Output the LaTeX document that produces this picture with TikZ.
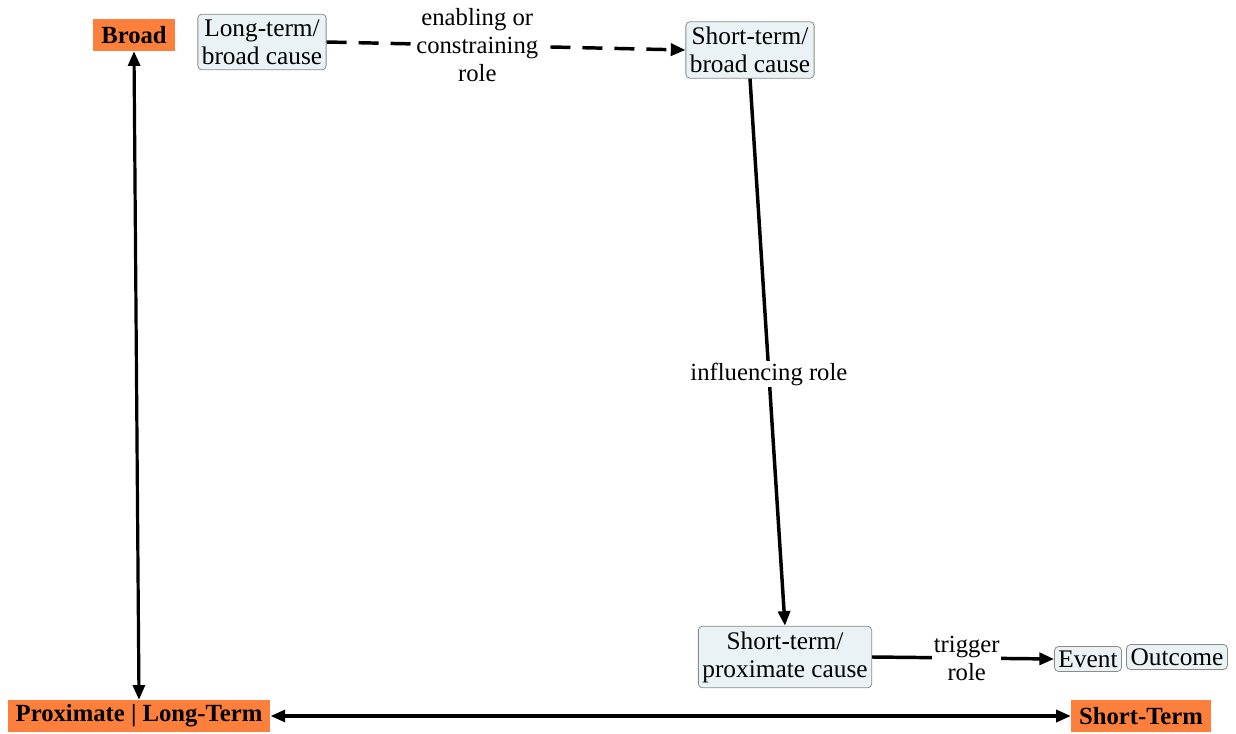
\documentclass[tikz,border=0pt]{standalone}
\usepackage{fontspec}
\setmainfont{LiberationSerif}[Extension=.ttf,UprightFont=*-Regular,BoldFont=*-Bold,ItalicFont=*-Italic,BoldItalicFont=*-BoldItalic]
\usetikzlibrary{arrows.meta}
\definecolor{causefill}{HTML}{EAF2F5}
\definecolor{causeedge}{HTML}{8A8A8A}
\definecolor{axisfill}{HTML}{FD7F3C}
\begin{document}
\begin{tikzpicture}[x=0.75pt,y=-0.75pt,
  cause/.style={draw=causeedge,fill=causefill,rounded corners=3pt,line width=0.6pt,
    align=center,inner xsep=3pt,inner ysep=4pt,font=\fontsize{19}{21}\selectfont},
  axis/.style={fill=axisfill,inner xsep=6pt,inner ysep=0pt,minimum height=24pt,
    font=\fontsize{18.5}{21}\selectfont\bfseries},
  rolelabel/.style={fill=white,align=center,inner sep=1pt,font=\fontsize{18.5}{21}\selectfont},
  link/.style={line width=2.6pt,-{Triangle[length=11pt,width=9pt]}},
  twoway/.style={line width=2.4pt,{Triangle[length=11pt,width=9pt]}-{Triangle[length=11pt,width=9pt]}}]
\useasboundingbox (0,0) rectangle (1236,734);

% axis labels
\node[axis] (broad) at (134,35) {Broad};
\node[axis] (prox) at (139,716) {Proximate | Long-Term};
\node[axis] (short) at (1141,716) {Short-Term};

% causes
\node[cause] (ltb) at (262,42) {Long-term/\\broad cause};
\node[cause] (stb) at (750,50) {Short-term/\\broad cause};
\node[cause] (stp) at (785,657) {Short-term/\\proximate cause};
\node[cause,inner ysep=3pt] (ev) at (1088,659) {Event};
\node[cause,inner ysep=3pt] (out) at (1177,657) {Outcome};

% axes
\draw[twoway] (broad.south) -- (prox.north);
\draw[twoway] (prox.east) -- (short.west);

% causal links
\draw[link,dash pattern=on 15pt off 9pt] (ltb.east) -- (stb.west)
  node[rolelabel,pos=0.42] {enabling or\\constraining\\role};
\draw[link] (stb.south) -- (stp.north)
  node[rolelabel,pos=0.54] {influencing role};
\draw[link] (stp.east) -- (ev.west)
  node[rolelabel,pos=0.52] {trigger\\role};
\end{tikzpicture}
\end{document}
